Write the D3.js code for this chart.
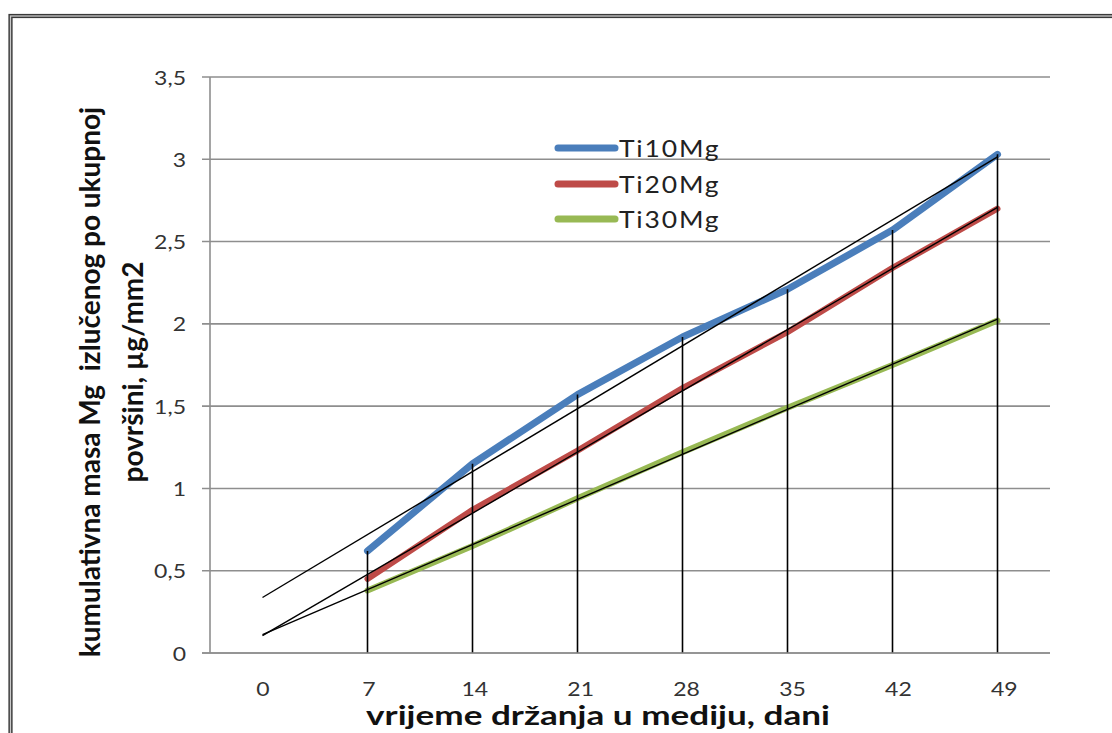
<!DOCTYPE html>
<html>
<head>
<meta charset="utf-8">
<script src="https://cdn.jsdelivr.net/npm/d3@7/dist/d3.min.js"></script>
<style>
  html, body { margin: 0; padding: 0; background: #fff; }
  svg { display: block; }
</style>
</head>
<body>
<svg id="chart" width="1112" height="733"></svg>
<script>
// ---- data ----
const categories = ["0", "7", "14", "21", "28", "35", "42", "49"];
const dataCategories = ["7", "14", "21", "28", "35", "42", "49"];
const ti10Mg = [0.62, 1.15, 1.57, 1.92, 2.21, 2.57, 3.03];
const ti20Mg = [0.45, 0.87, 1.23, 1.61, 1.95, 2.34, 2.70];
const ti30Mg = [0.38, 0.65, 0.94, 1.22, 1.49, 1.75, 2.02];
const seriesNames = ["Ti10Mg", "Ti20Mg", "Ti30Mg"];
const yTicks = [0, 0.5, 1, 1.5, 2, 2.5, 3, 3.5];
const yTickLabels = ["0", "0,5", "1", "1,5", "2", "2,5", "3", "3,5"];
const xTitle = "vrijeme držanja u mediju, dani";
const yTitle1 = "kumulativna masa Mg  izlučenog po ukupnoj";
const yTitle2 = "površini, µg/mm2";

const seriesColors = ["#4a7ebb", "#be4b48", "#98b954"];
const seriesWidths = [7, 6, 6];

const svg = d3.select("#chart");
const plot = { left: 210, right: 1050, top: 77, bottom: 653 };

// frame (double border, cropped right/bottom)
svg.append("rect").attr("x", 10.5).attr("y", 16).attr("width", 1200).attr("height", 900)
  .attr("fill", "none").attr("stroke", "#3a3a3a").attr("stroke-width", 4.2);
svg.append("rect").attr("x", 10.5).attr("y", 16).attr("width", 1200).attr("height", 900)
  .attr("fill", "none").attr("stroke", "#c9c9c9").attr("stroke-width", 1.3);

const x = d3.scaleBand().domain(categories).range([plot.left, plot.right]).padding(0);
const cx = c => x(c) + x.bandwidth() / 2;
const y = d3.scaleLinear().domain([0, 3.5]).range([plot.bottom, plot.top]);

const font = "Lato, 'Open Sans', sans-serif";

// horizontally stretched text helper (reference text is wider than tall)
function stretchedText(px, py, str, size, sx, anchor) {
  return svg.append("text")
    .attr("transform", `translate(${px},${py}) scale(${sx},1)`)
    .attr("text-anchor", anchor)
    .attr("font-family", font).attr("font-size", size)
    .text(str);
}

// gridlines + y tick labels
const grid = svg.append("g");
yTicks.forEach((t, i) => {
  grid.append("line")
    .attr("x1", plot.left - 8).attr("x2", plot.right)
    .attr("y1", y(t)).attr("y2", y(t))
    .attr("stroke", "#8e8e8e").attr("stroke-width", 1.6);
  stretchedText(186, y(t) + 7.5, yTickLabels[i], 20, 1.15, "end").attr("fill", "#333");
});
// y axis line
svg.append("line").attr("x1", plot.left).attr("x2", plot.left)
  .attr("y1", plot.top).attr("y2", plot.bottom)
  .attr("stroke", "#8e8e8e").attr("stroke-width", 1.6);

// x labels
categories.forEach((c, i) => {
  stretchedText(cx(c) + 0.5 + i * 0.9, 696, c, 20, 1.15, "middle").attr("fill", "#333");
});

// series lines
const allSeries = [ti10Mg, ti20Mg, ti30Mg];
const line = d3.line()
  .x((d, i) => cx(dataCategories[i]))
  .y(d => y(d));
allSeries.forEach((s, k) => {
  svg.append("path").datum(s)
    .attr("d", line)
    .attr("fill", "none")
    .attr("stroke", seriesColors[k])
    .attr("stroke-width", seriesWidths[k])
    .attr("stroke-linecap", "round")
    .attr("stroke-linejoin", "round");
});

// linear trendlines (least squares over category index), backward forecast to category "0"
allSeries.forEach(s => {
  const xs = s.map((d, i) => categories.indexOf(dataCategories[i]));
  const mx = d3.mean(xs), my = d3.mean(s);
  const slope = d3.sum(xs.map((xi, i) => (xi - mx) * (s[i] - my))) / d3.sum(xs.map(xi => (xi - mx) ** 2));
  const icpt = my - slope * mx;
  const i0 = 0, i1 = categories.length - 1;
  svg.append("line")
    .attr("x1", cx(categories[i0])).attr("y1", y(icpt + slope * i0))
    .attr("x2", cx(categories[i1])).attr("y2", y(icpt + slope * i1))
    .attr("stroke", "#000").attr("stroke-width", 1.4);
});

// drop lines from highest point down to axis
dataCategories.forEach((c, i) => {
  const top = d3.max(allSeries, s => s[i]);
  svg.append("line")
    .attr("x1", cx(c)).attr("x2", cx(c))
    .attr("y1", y(top)).attr("y2", plot.bottom)
    .attr("stroke", "#000").attr("stroke-width", 1.6);
});

// x axis line
svg.append("line").attr("x1", plot.left - 8).attr("x2", plot.right)
  .attr("y1", plot.bottom).attr("y2", plot.bottom)
  .attr("stroke", "#8e8e8e").attr("stroke-width", 1.6);

// legend
const legY = [148, 184, 219];
seriesNames.forEach((n, k) => {
  svg.append("line")
    .attr("x1", 558).attr("x2", 615)
    .attr("y1", legY[k]).attr("y2", legY[k])
    .attr("stroke", seriesColors[k]).attr("stroke-width", 7)
    .attr("stroke-linecap", "round");
  stretchedText(619, legY[k] + 8.5, seriesNames[k], 23, 1.15, "start")
    .attr("letter-spacing", 1.6)
    .attr("fill", "#222");
});

// axis titles
stretchedText(598, 725, xTitle, 27, 1.3, "middle")
  .attr("font-weight", "bold").attr("fill", "#111");

const yt = svg.append("g").attr("transform", "translate(0,382) rotate(-90)");
yt.append("text")
  .attr("x", 0).attr("y", 100)
  .attr("text-anchor", "middle")
  .attr("font-family", font).attr("font-size", 28).attr("font-weight", "bold")
  .attr("fill", "#111")
  .attr("xml:space", "preserve")
  .style("white-space", "pre")
  .text(yTitle1);
yt.append("text")
  .attr("x", 10).attr("y", 143)
  .attr("text-anchor", "middle")
  .attr("font-family", font).attr("font-size", 28).attr("font-weight", "bold")
  .attr("fill", "#111")
  .text(yTitle2);
</script>
</body>
</html>
